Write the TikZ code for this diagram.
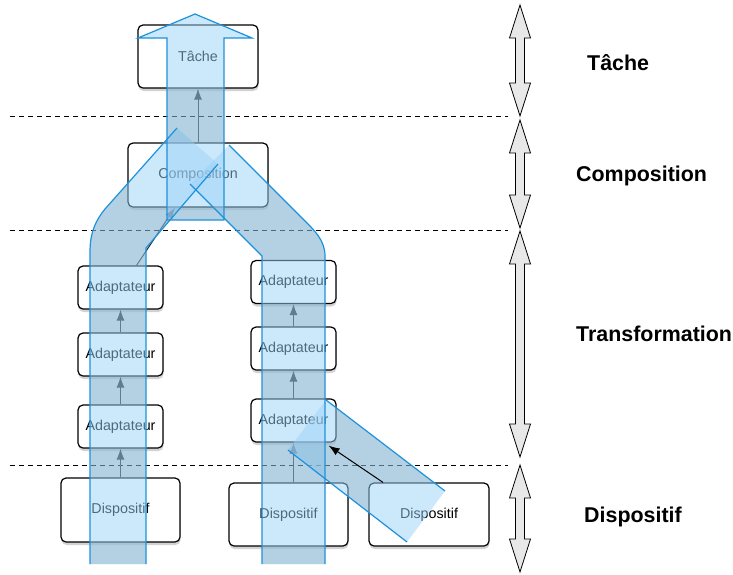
\documentclass[tikz,border=0pt]{standalone}
\usepackage{fontspec}
\setmainfont{Liberation Sans}
\usetikzlibrary{arrows.meta,shadows}
\definecolor{cBand}{RGB}{155,211,249}
\definecolor{cEdge}{RGB}{30,145,220}
\definecolor{cSide}{RGB}{232,232,232}
% outlines of the flows
\newcommand{\tachearrow}{(167,220) -- (167,38) -- (138,38) -- (195,14) -- (252,38) -- (224,38) -- (224,220) -- cycle}
\newcommand{\armleft}{(90,564) -- (90,252) .. controls (90,232) and (96,220) .. (105,209) -- (177,128) -- (218,164) -- (146,248) -- (146,564) -- cycle}
\newcommand{\armright}{(325,564) -- (325,256) .. controls (325,240) and (314,230) .. (303,219) -- (229,145) -- (190,184) -- (262,256) -- (262,564) -- cycle}
\newcommand{\sidein}{(288,450) -- (326,400) -- (445,491) -- (407,542) -- cycle}
\begin{document}
\begin{tikzpicture}[x=1pt,y=-1pt,
  box/.style={draw=black, line width=1.2pt, fill=white, rounded corners=5pt, inner sep=0pt,
    font=\fontsize{14.3}{16}\selectfont,
    drop shadow={shadow xshift=0.5pt, shadow yshift=-3pt, opacity=0.35}},
  conn/.style={draw=black!85, line width=1pt, -{Latex[length=11pt,width=8pt]}},
  bandbody/.style={fill=cBand, fill opacity=0.5},
  bandshade/.style={fill=black, fill opacity=0.19},
  bandedge/.style={draw=cEdge, line width=1.2pt},
  tier/.style={anchor=base west, inner sep=0pt, font=\fontsize{21.4}{24}\selectfont\bfseries},
  divider/.style={dash pattern=on 5pt off 4pt, line width=0.8pt}]
  \path[use as bounding box, fill=white] (0,0) rectangle (733,574);

  % shadows of the flows
  \fill[bandshade] (167,220) -- (167,38) -- (224,38) -- (224,220) -- cycle;
  \fill[bandshade] \armleft;
  \fill[bandshade] \armright;
  \fill[bandshade] \sidein;

  % levels
  \draw[divider] (10,116) -- (508,116);
  \draw[divider] (10,230) -- (508,230);
  \draw[divider] (10,465) -- (508,465);
  \foreach \ya/\yb in {5/116,120/228,231/457,465/572}
    \draw[fill=cSide, line width=0.8pt] (520,\ya) -- (530.5,\ya+33) -- (524.5,\ya+33) -- (524.5,\yb-33)
      -- (530.5,\yb-33) -- (520,\yb) -- (509.5,\yb-33) -- (515.5,\yb-33) -- (515.5,\ya+33) -- (509.5,\ya+33) -- cycle;
  \node[tier] (lTache) at (587,70) {Tâche};
  \node[tier] (lCompo) at (576,181) {Composition};
  \node[tier] (lTrans) at (576,341) {Transformation};
  \node[tier] (lDisp) at (584,522) {Dispositif};

  % boxes
  \node[box, minimum width=120pt, minimum height=63pt] (tache) at (198,56.5) {Tâche};
  \node[box, minimum width=140pt, minimum height=64pt] (compo) at (198,175) {Composition};
  \node[box, minimum width=85pt, minimum height=43pt] (adL1) at (120.5,287.5) {Adaptateur};
  \node[box, minimum width=85pt, minimum height=43pt] (adL2) at (120.5,354.5) {Adaptateur};
  \node[box, minimum width=85pt, minimum height=43pt] (adL3) at (120.5,426.5) {Adaptateur};
  \node[box, minimum width=119pt, minimum height=64pt] (dispL) at (120.5,510) {Dispositif};
  \node[box, minimum width=85pt, minimum height=43pt] (adR1) at (293.5,282) {Adaptateur};
  \node[box, minimum width=85pt, minimum height=43pt] (adR2) at (293.5,348.5) {Adaptateur};
  \node[box, minimum width=85pt, minimum height=43pt] (adR3) at (293.5,420.5) {Adaptateur};
  \node[box, minimum width=119pt, minimum height=63pt] (dispM) at (288.5,514.5) {Dispositif};
  \node[box, minimum width=120pt, minimum height=63pt] (dispR) at (429,514.5) {Dispositif};

  % connectors
  \draw[conn] (compo.north) -- (tache.south);
  \draw[conn] ([xshift=16pt]adL1.north) -- ([xshift=-23pt]compo.south);
  \draw[conn] (adL2.north) -- (adL1.south);
  \draw[conn] (adL3.north) -- (adL2.south);
  \draw[conn] (dispL.north) -- (adL3.south);
  \draw[conn] (adR2.north) -- (adR1.south);
  \draw[conn] (adR3.north) -- (adR2.south);
  \draw[conn] ([xshift=5pt]dispM.north) -- (adR3.south);

  % flows
  \fill[bandbody] \armleft;
  \fill[bandbody] \armright;
  \fill[bandbody] \sidein;
  \fill[bandbody] \tachearrow;
  \draw[bandedge] \tachearrow;
  \draw[bandedge] (146,564) -- (146,248) -- (218,164);
  \draw[bandedge] (90,564) -- (90,252) .. controls (90,232) and (96,220) .. (105,209) -- (177,128);
  \draw[bandedge] (262,564) -- (262,256) -- (190,184);
  \draw[bandedge] (325,564) -- (325,256) .. controls (325,240) and (314,230) .. (303,219) -- (229,145);
  \draw[bandedge] (326,400) -- (445,491);
  \draw[bandedge] (288,450) -- (407,542);

  \draw[conn, draw=black] ([xshift=-46pt]dispR.north) -- ([xshift=-8pt,yshift=-3pt]adR3.south east);
\end{tikzpicture}
\end{document}
